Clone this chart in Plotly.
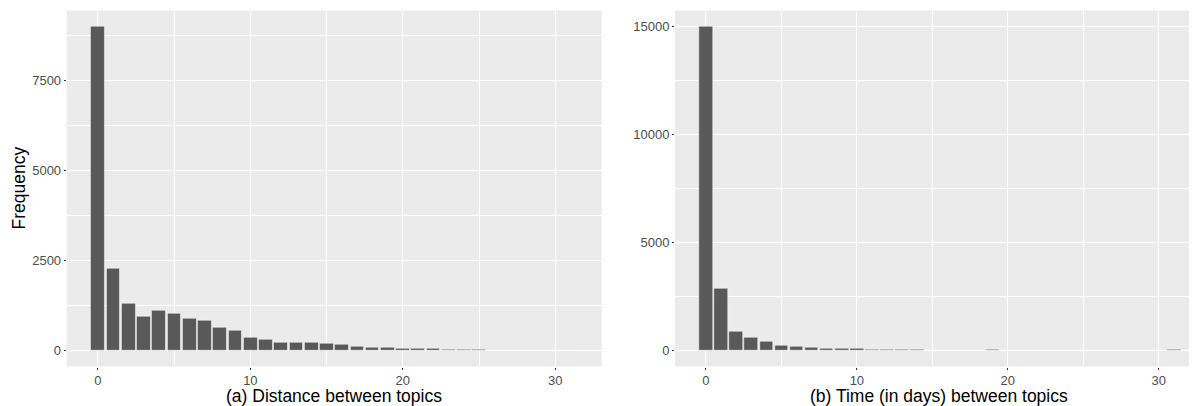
import plotly.graph_objects as go

# ---- data ----
dist_bins = list(range(0, 32))
dist_freq = [9000, 2280, 1290, 950, 1100, 1020, 880, 830, 640, 540,
             355, 290, 205, 205, 205, 178, 150, 93, 65, 65,
             37, 37, 37, 20, 20, 20, 0, 0, 0, 0, 0, 0]

time_bins = list(range(0, 32))
time_freq = [15000, 2860, 885, 575, 390, 235, 170, 110, 62, 62,
             62, 30, 30, 30, 30, 0, 0, 0, 0, 30,
             0, 0, 0, 0, 0, 0, 0, 0, 0, 0, 0, 60]

left_xticks = [0, 10, 20, 30]
left_yticks = [0, 2500, 5000, 7500]
right_xticks = [0, 10, 20, 30]
right_yticks = [0, 5000, 10000, 15000]

x_title_a = "(a) Distance between topics"
x_title_b = "(b) Time (in days) between topics"
y_title = "Frequency"

# ---- style ----
BAR = "#595959"
BG = "#EBEBEB"
FONT = "Liberation Sans, Arial, sans-serif"
TICKFONT = dict(family=FONT, size=13, color="#4D4D4D")
TITLEFONT = dict(family=FONT, size=17.5, color="#000000")
OFF = 8  # page body margin
W, H = 1197 - OFF, 406 - OFF


def px(sx):
    return (sx - OFF) / W


def py(sy):
    return 1 - (sy - OFF) / H


fig = go.Figure()
fig.add_trace(go.Bar(x=dist_bins, y=dist_freq, width=0.9,
                     marker=dict(color=BAR, line=dict(color="white", width=0.5)),
                     xaxis="x", yaxis="y", showlegend=False))
fig.add_trace(go.Bar(x=time_bins, y=time_freq, width=0.9,
                     marker=dict(color=BAR, line=dict(color="white", width=0.5)),
                     xaxis="x2", yaxis="y2", showlegend=False))

ydom = [py(366.5), py(10.5)]
xdom_a = [px(66.7), px(601.7)]
xdom_b = [px(675), 1.0]

common_axis = dict(
    showgrid=True, gridcolor="white", gridwidth=1.3, zeroline=False,
    showline=False, ticks="outside", ticklen=2, tickwidth=1,
    tickcolor="#333333", tickfont=TICKFONT, automargin=False,
)


def minor(vals):
    return dict(tickvals=vals, showgrid=True, gridcolor="white",
                gridwidth=0.6, ticks="")


fig.update_layout(
    width=W, height=H,
    margin=dict(l=0, r=0, t=0, b=0),
    paper_bgcolor="white", plot_bgcolor=BG,
    bargap=0,
    xaxis=dict(domain=xdom_a, range=[-2.05, 33.05], tickvals=left_xticks,
               ticktext=[str(v) for v in left_xticks], anchor="y",
               minor=minor([5, 15, 25]), **common_axis),
    yaxis=dict(domain=ydom, range=[-450, 9450], tickvals=left_yticks,
               ticktext=[str(v) for v in left_yticks], anchor="x",
               minor=minor([1250, 3750, 6250, 8750]), **common_axis),
    xaxis2=dict(domain=xdom_b, range=[-2.05, (1197 - 706) / 15.09],
                tickvals=right_xticks, ticktext=[str(v) for v in right_xticks],
                anchor="y2", minor=minor([5, 15, 25]), **common_axis),
    yaxis2=dict(domain=ydom, range=[-750, 15750], tickvals=right_yticks,
                ticktext=[str(v) for v in right_yticks], anchor="x2",
                minor=minor([2500, 7500, 12500]), **common_axis),
)

fig.add_annotation(text=x_title_a, xref="paper", yref="paper",
                   x=sum(xdom_a) / 2, y=py(396), xanchor="center",
                   yanchor="middle", showarrow=False, font=TITLEFONT,
                   borderpad=0)
fig.add_annotation(text=x_title_b, xref="paper", yref="paper",
                   x=px(939), y=py(396), xanchor="center",
                   yanchor="middle", showarrow=False, font=TITLEFONT,
                   borderpad=0)
fig.add_annotation(text=y_title, xref="paper", yref="paper",
                   x=px(19), y=sum(ydom) / 2, xanchor="center",
                   yanchor="middle", textangle=-90, showarrow=False,
                   font=TITLEFONT)

fig.write_html("out.html")
